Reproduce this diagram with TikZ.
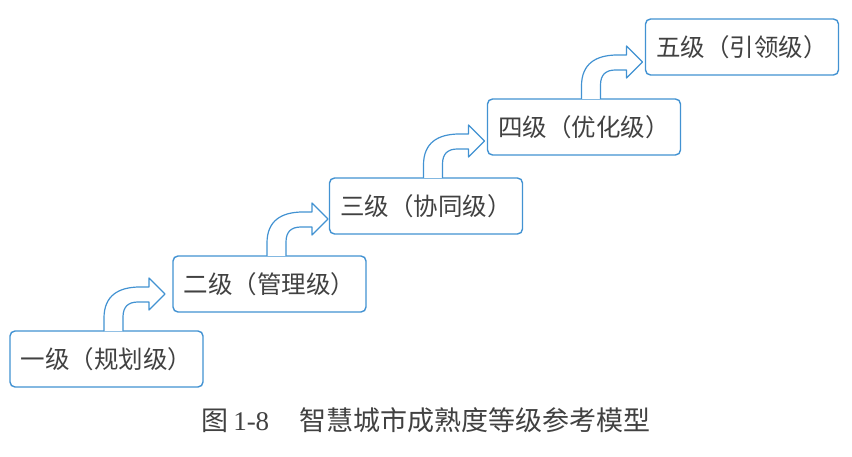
\documentclass[tikz,border=0pt]{standalone}
\usepackage{fontspec}
\setmainfont{Liberation Serif}
\newfontfamily\cjk{Noto Sans CJK SC}
\definecolor{boxblue}{RGB}{66,146,210}
\definecolor{txtgray}{RGB}{65,65,65}
\begin{document}
\begin{tikzpicture}[x=1pt, y=-1pt]
      \useasboundingbox[fill=white] (0,0) rectangle (852,457);
      \tikzstyle{level}=[draw=boxblue, line width=1.4pt, rounded corners=5pt, fill=white,
        minimum width=193pt, minimum height=56pt, inner sep=0pt, outer sep=0pt,
        text=txtgray, font=\cjk\fontsize{24.5}{24.5}\selectfont]
      \tikzstyle{step arrow}=[draw=boxblue, line width=1.2pt, fill=white, line join=round]
      \foreach \i/\x/\y/\t in {1/106.5/359/一级（规划级）, 2/269.5/284/二级（管理级）,
        3/426/206/三级（协同级）, 4/584/127/四级（优化级）, 5/742/47/五级（引领级）}
      {
        \path (\x, \y) node[level] (s\i) {\t};
      }

      \foreach \i in {1, ..., 4}
      {
        \draw[step arrow, shift={(s\i.north west)}]
          (94,0) -- (94,-13) .. controls (94,-35) and (108,-44) .. (130,-44)
          -- (139,-44) -- (139,-53) -- (155,-37) -- (139,-21) -- (139,-29)
          -- (128,-29) .. controls (118,-29) and (113,-24) .. (113,-14) -- (113,0);
      }

      \node[text=txtgray, font=\fontsize{27}{27}\selectfont] (caption) at (426,420)
        {{\cjk 图}\,1-8\hspace{30pt}{\cjk 智慧城市成熟度等级参考模型}};
    \end{tikzpicture}
\end{document}
